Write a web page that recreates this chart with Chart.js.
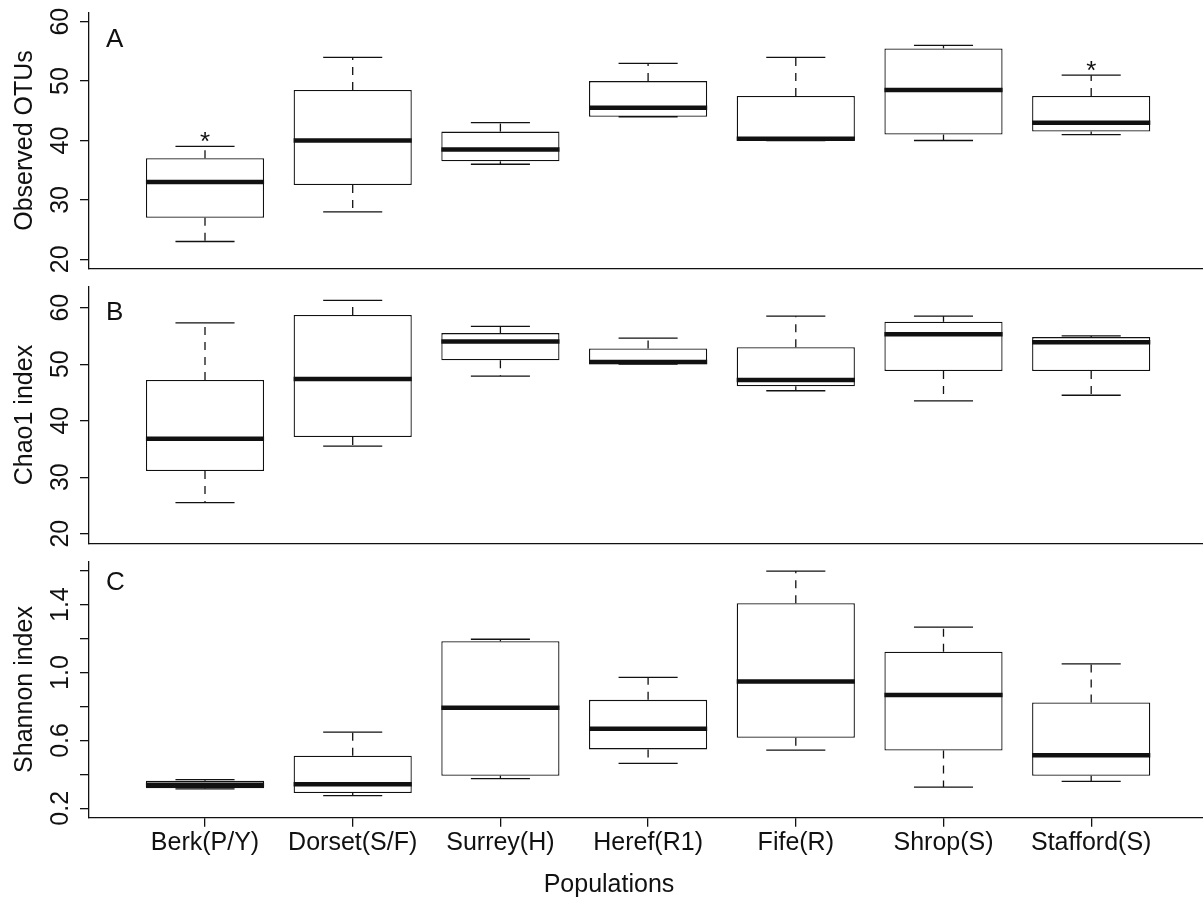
<!DOCTYPE html>
<html>
<head>
<meta charset="utf-8">
<script src="https://cdn.jsdelivr.net/npm/chart.js@4.4.1/dist/chart.umd.min.js"></script>
<style>
  html, body { margin: 0; padding: 0; background: #fff; }
  #wrap { position: relative; width: 1203px; height: 899px; }
  #wrap canvas { position: absolute; left: 0; top: 0; }
</style>
</head>
<body>
<div id="wrap">
  <canvas id="panelA" width="1203" height="899"></canvas>
  <canvas id="panelB" width="1203" height="899"></canvas>
  <canvas id="panelC" width="1203" height="899"></canvas>
</div>
<script>
// ---------- data ----------
const populations = ["Berk(P/Y)", "Dorset(S/F)", "Surrey(H)", "Heref(R1)", "Fife(R)", "Shrop(S)", "Stafford(S)"];
const xRange = [0.2146, 7.757];

// A: observed OTUs
const otuMin = [23, 28, 36, 44, 40, 40, 41];
const otuQ1 = [27, 32.5, 36.5, 44, 40, 41, 41.5];
const otuMedian = [33, 40, 38.5, 45.5, 40.3, 48.5, 43];
const otuQ3 = [37, 48.5, 41.5, 50, 47.5, 55.5, 47.5];
const otuMax = [39, 54, 43, 53, 54, 56, 51];
const otuSignif = ["*", "", "", "", "", "", "*"];
const otuTicks = [20, 30, 40, 50, 60];
const otuRange = [18.4, 61.6];

// B: Chao1
const chaoMin = [25.5, 35.5, 47.9, 50.0, 45.3, 43.5, 44.5];
const chaoQ1 = [31.1, 37.1, 50.7, 50.0, 46.1, 48.8, 48.8];
const chaoMedian = [36.8, 47.4, 54.0, 50.4, 47.2, 55.3, 53.9];
const chaoQ3 = [47.2, 58.7, 55.5, 52.8, 53.0, 57.5, 54.8];
const chaoMax = [57.3, 61.3, 56.7, 54.6, 58.5, 58.5, 55.0];
const chaoTicks = [20, 30, 40, 50, 60];
const chaoRange = [18.32, 63.68];

// C: Shannon
const shanMin = [0.315, 0.275, 0.375, 0.465, 0.543, 0.325, 0.359];
const shanQ1 = [0.318, 0.29, 0.392, 0.547, 0.616, 0.541, 0.392];
const shanMedian = [0.339, 0.341, 0.792, 0.669, 0.947, 0.867, 0.512];
const shanQ3 = [0.363, 0.51, 1.184, 0.839, 1.408, 1.122, 0.824];
const shanMax = [0.369, 0.649, 1.196, 0.972, 1.598, 1.267, 1.051];
const shanTicks = [0.2, 0.4, 0.6, 0.8, 1.0, 1.2, 1.4, 1.6];
const shanTickLabels = ["0.2", "", "0.6", "", "1.0", "", "1.4", ""];
const shanRange = [0.144, 1.656];

// ---------- style ----------
const INK = "#111";
const FONT = '"Liberation Sans", Arial, Helvetica, sans-serif';
const H = 899;

const panels = [
  { id: "panelA", letter: "A", title: "Observed OTUs", min: otuMin, q1: otuQ1, med: otuMedian, q3: otuQ3, max: otuMax,
    signif: otuSignif, ticks: otuTicks, tickLabels: otuTicks.map(String), range: otuRange,
    top: 12.2, bottom: 268.8, letterDy: 35, showX: false },
  { id: "panelB", letter: "B", title: "Chao1 index", min: chaoMin, q1: chaoQ1, med: chaoMedian, q3: chaoQ3, max: chaoMax,
    signif: null, ticks: chaoTicks, tickLabels: chaoTicks.map(String), range: chaoRange,
    top: 286.9, bottom: 543.2, letterDy: 33, showX: false },
  { id: "panelC", letter: "C", title: "Shannon index", min: shanMin, q1: shanQ1, med: shanMedian, q3: shanQ3, max: shanMax,
    signif: null, ticks: shanTicks, tickLabels: shanTickLabels, range: shanRange,
    top: 561.2, bottom: 817.8, letterDy: 29, showX: true },
];

// ---------- helpers ----------
function line(ctx, x1, y1, x2, y2) {
  ctx.beginPath();
  ctx.moveTo(x1, y1);
  ctx.lineTo(x2, y2);
  ctx.stroke();
}

function vText(ctx, str, x, y) {
  ctx.save();
  ctx.translate(x, y);
  ctx.rotate(-Math.PI / 2);
  ctx.textAlign = "center";
  ctx.textBaseline = "alphabetic";
  ctx.fillText(str, 0, 0);
  ctx.restore();
}

// whiskers, staples and medians on top of the floating-bar boxes
function boxPlugin(p) {
  return {
    id: "boxWhiskers",
    afterDatasetsDraw(chart) {
      const { ctx, scales: { y } } = chart;
      const bars = chart.getDatasetMeta(0).data;
      ctx.save();
      ctx.strokeStyle = INK;
      ctx.lineCap = "butt";
      bars.forEach((bar, i) => {
        const cx = bar.x, w = bar.width;
        const yMin = y.getPixelForValue(p.min[i]);
        const yQ1 = y.getPixelForValue(p.q1[i]);
        const yMed = y.getPixelForValue(p.med[i]);
        const yQ3 = y.getPixelForValue(p.q3[i]);
        const yMax = y.getPixelForValue(p.max[i]);
        ctx.lineWidth = 1.3;
        ctx.setLineDash([8, 7]);
        if (yQ3 - yMax > 0.5) line(ctx, cx, yQ3, cx, yMax);
        if (yMin - yQ1 > 0.5) line(ctx, cx, yQ1, cx, yMin);
        ctx.setLineDash([]);
        line(ctx, cx - w / 4, yMax, cx + w / 4, yMax);
        line(ctx, cx - w / 4, yMin, cx + w / 4, yMin);
        ctx.lineWidth = 4.5;
        line(ctx, cx - w / 2, yMed, cx + w / 2, yMed);
      });
      ctx.restore();
    },
    afterDraw(chart) {
      const { ctx, chartArea, scales: { x, y } } = chart;
      const bars = chart.getDatasetMeta(0).data;
      ctx.save();
      ctx.fillStyle = INK;

      // panel letter
      ctx.font = "26px " + FONT;
      ctx.textAlign = "left";
      ctx.textBaseline = "alphabetic";
      ctx.fillText(p.letter, chartArea.left + 17, chartArea.top + p.letterDy);

      // y tick labels (rotated like R's axis)
      ctx.font = "25px " + FONT;
      p.ticks.forEach((v, i) => {
        if (p.tickLabels[i]) vText(ctx, p.tickLabels[i], chartArea.left - 21, y.getPixelForValue(v));
      });

      // y axis title
      vText(ctx, p.title, 32, (chartArea.top + chartArea.bottom) / 2);

      // significance marks
      if (p.signif) {
        ctx.font = "26px " + FONT;
        ctx.textAlign = "center";
        bars.forEach((bar, i) => {
          if (!p.signif[i]) return;
          ctx.fillText(p.signif[i], bar.x, y.getPixelForValue(p.max[i]) + 4);
        });
      }

      // category labels and x title on the bottom panel
      if (p.showX) {
        ctx.font = "25px " + FONT;
        ctx.textAlign = "center";
        populations.forEach((name, i) => {
          ctx.fillText(name, x.getPixelForValue(i + 1), chartArea.bottom + 32);
        });
        ctx.fillText("Populations", 609, chartArea.bottom + 74);
      }
      ctx.restore();
    },
  };
}

// ---------- charts ----------
panels.forEach((p) => {
  new Chart(document.getElementById(p.id), {
    type: "bar",
    data: {
      datasets: [
        {
          data: populations.map((_, i) => ({ x: i + 1, y: [p.q1[i], p.q3[i]] })),
          backgroundColor: "#fff",
          borderColor: INK,
          borderWidth: 1.3,
          borderSkipped: false,
          barPercentage: 0.8,
          categoryPercentage: 1,
        },
      ],
    },
    options: {
      responsive: false,
      animation: false,
      events: [],
      layout: { padding: { top: p.top, bottom: 0, left: 0, right: 0 } },
      plugins: { legend: { display: false }, tooltip: { enabled: false } },
      scales: {
        x: {
          type: "linear",
          min: xRange[0],
          max: xRange[1],
          offset: false,
          afterBuildTicks: (s) => { s.ticks = populations.map((_, i) => ({ value: i + 1 })); },
          afterFit: (s) => { s.height = H - p.bottom; },
          ticks: { display: false },
          grid: { display: p.showX, offset: false, drawOnChartArea: false, drawTicks: true, tickLength: 9, color: INK, lineWidth: 1.3 },
          border: { display: true, color: INK, width: 1.3 },
        },
        y: {
          min: p.range[0],
          max: p.range[1],
          afterBuildTicks: (s) => { s.ticks = p.ticks.map((v) => ({ value: v })); },
          afterFit: (s) => { s.width = 89; },
          ticks: { display: false },
          grid: { drawOnChartArea: false, drawTicks: true, tickLength: 9, color: INK, lineWidth: 1.3 },
          border: { display: true, color: INK, width: 1.3 },
        },
      },
    },
    plugins: [boxPlugin(p)],
  });
});
</script>
</body>
</html>
